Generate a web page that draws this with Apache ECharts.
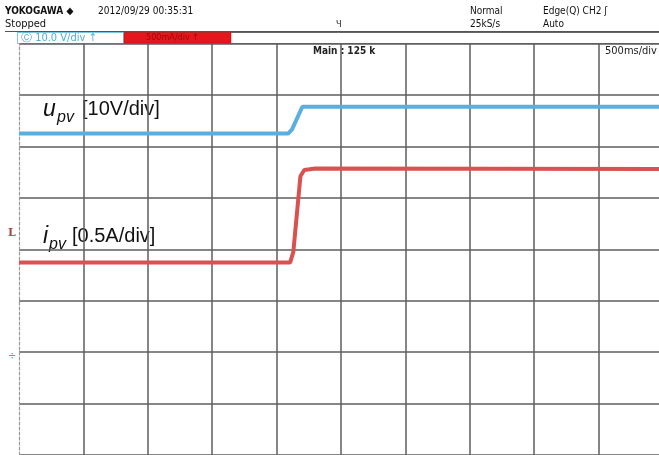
<!DOCTYPE html>
<html>
<head>
<meta charset="utf-8">
<script src="https://cdn.jsdelivr.net/npm/echarts@6/dist/echarts.min.js"></script>
<style>
html,body{margin:0;padding:0;background:#fff;}
#c{width:659px;height:455px;}
</style>
</head>
<body>
<div id="c"></div>
<script>
// Horizontal axis in divisions (500 ms/div), vertical axis in divisions
const xTicks = [0, 1, 2, 3, 4, 5, 6, 7, 8, 9];
const xVisibleMax = 9.938;   // screen shows slightly less than 10 divisions
const yTicks = [-4, -3, -2, -1, 0, 1, 2, 3, 4];
// u_pv trace (10 V/div)
const upvTime  = [0, 4.18, 4.24, 4.40, 10];
const upvLevel = [2.25, 2.25, 2.33, 2.77, 2.77];
// i_pv trace (0.5 A/div)
const ipvTime  = [0, 4.21, 4.26, 4.37, 4.43, 4.60, 10];
const ipvLevel = [-0.26, -0.26, -0.05, 1.42, 1.54, 1.57, 1.56];

const HF = "'Liberation Sans Narrow','DejaVu Sans Condensed','Liberation Sans',sans-serif";
const LF = "'Liberation Sans',Arial,sans-serif";

const chart = echarts.init(document.getElementById('c'), null, {renderer: 'canvas'});
// first line is the dashed left border (drawn by axisLine); last entry is the cut-off edge
const gridColors = xTicks.map((t, i) => i === 0 ? 'rgba(0,0,0,0)' : '#5e5e5e').concat(['rgba(0,0,0,0)']);

function txt(x, y, s, size, color, extra) {
  return Object.assign({
    type: 'text', left: x, top: y, silent: true,
    style: Object.assign({text: s, font: size + 'px ' + HF, fill: color}, extra || {})
  });
}

chart.setOption({
  animation: false,
  backgroundColor: '#ffffff',
  grid: {left: 19, top: 43.5, right: 0, height: 412, containLabel: false},
  xAxis: {
    type: 'value', min: 0, max: xVisibleMax, interval: 1,
    axisLabel: {show: false}, axisTick: {show: false}, axisLine: {show: false},
    splitLine: {show: true, lineStyle: {color: gridColors, width: 1.5}}
  },
  yAxis: {
    type: 'value', min: yTicks[0], max: yTicks[yTicks.length - 1], interval: 1,
    axisLabel: {show: false}, axisTick: {show: false},
    axisLine: {show: true, lineStyle: {color: '#9a9a9a', type: [3, 2], width: 1.2}},
    splitLine: {show: true, lineStyle: {color: '#5e5e5e', width: 1.5}}
  },
  series: [
    {
      type: 'line', name: 'upv', symbol: 'none', silent: true,
      data: upvTime.map((t, i) => [t, upvLevel[i]]),
      lineStyle: {color: '#5aaee0', width: 4}
    },
    {
      type: 'line', name: 'ipv', symbol: 'none', silent: true,
      data: ipvTime.map((t, i) => [t, ipvLevel[i]]),
      lineStyle: {color: '#d9524f', width: 4}
    }
  ],
  graphic: [
    // header
    {type: 'text', left: 5, top: 6, silent: true, style: {text: 'YOKOGAWA ◆', font: 'bold 10px ' + HF, fill: '#111'}},
    txt(98, 6, '2012/09/29 00:35:31', 10, '#111'),
    txt(5, 19, 'Stopped', 11, '#111'),
    txt(336, 20, 'Ч', 9, '#222'),
    txt(470, 6, 'Normal', 10, '#111'),
    txt(470, 19, '25kS/s', 10, '#111'),
    txt(543, 6, 'Edge(Q) CH2 \u0283', 10, '#111'),
    txt(543, 19, 'Auto', 10, '#111'),
    {type: 'line', silent: true, shape: {x1: 5, y1: 31.5, x2: 659, y2: 31.5}, style: {stroke: '#555', lineWidth: 1}},
    // channel box row
    {type: 'rect', silent: true, shape: {x: 17.5, y: 32.5, width: 660, height: 11}, style: {fill: '#fff', stroke: '#666', lineWidth: 1}},
    {type: 'rect', silent: true, shape: {x: 17.5, y: 32.5, width: 106, height: 11}, style: {fill: '#fff', stroke: '#7cc8e0', lineWidth: 1}},
    txt(21, 32.5, '\u24B8 10.0 V/div \u2191', 11, '#4fb0d4'),
    {type: 'rect', silent: true, shape: {x: 124, y: 32.5, width: 107, height: 10.5}, style: {fill: '#e5161c', stroke: '#c01010', lineWidth: 0.5}},
    txt(146, 33, '500mA/div \u2191', 9, '#9a0a0a'),
    // grid annotations
    {type: 'rect', silent: true, shape: {x: 311, y: 46, width: 63, height: 12}, style: {fill: '#fff'}},
    {type: 'text', left: 313, top: 46, silent: true, style: {text: 'Main : 125 k', font: 'bold 10px ' + HF, fill: '#222'}},
    {type: 'rect', silent: true, shape: {x: 603, y: 45, width: 56, height: 14}, style: {fill: '#fff'}},
    txt(605, 46, '500ms/div', 11, '#222'),
    // left markers
    {type: 'text', left: 8, top: 228, silent: true, style: {text: 'L', font: 'bold 11px "DejaVu Serif",serif', fill: '#b04444'}},
    txt(8, 351, '\u00F7', 11, '#c07090'),
    // trace labels
    {type: 'text', left: 43, top: 98, silent: true, style: {text: 'u', font: 'italic 23px ' + LF, fill: '#111'}},
    {type: 'text', left: 57, top: 110, silent: true, style: {text: 'pv', font: 'italic 16px ' + LF, fill: '#111'}},
    {type: 'text', left: 82, top: 99, silent: true, style: {text: '[10V/div]', font: '20px ' + LF, fill: '#111'}},
    {type: 'text', left: 43, top: 225, silent: true, style: {text: 'i', font: 'italic 23px ' + LF, fill: '#111'}},
    {type: 'text', left: 49, top: 237, silent: true, style: {text: 'pv', font: 'italic 16px ' + LF, fill: '#111'}},
    {type: 'text', left: 72, top: 226, silent: true, style: {text: '[0.5A/div]', font: '20px ' + LF, fill: '#111'}}
  ]
});
</script>
</body>
</html>
